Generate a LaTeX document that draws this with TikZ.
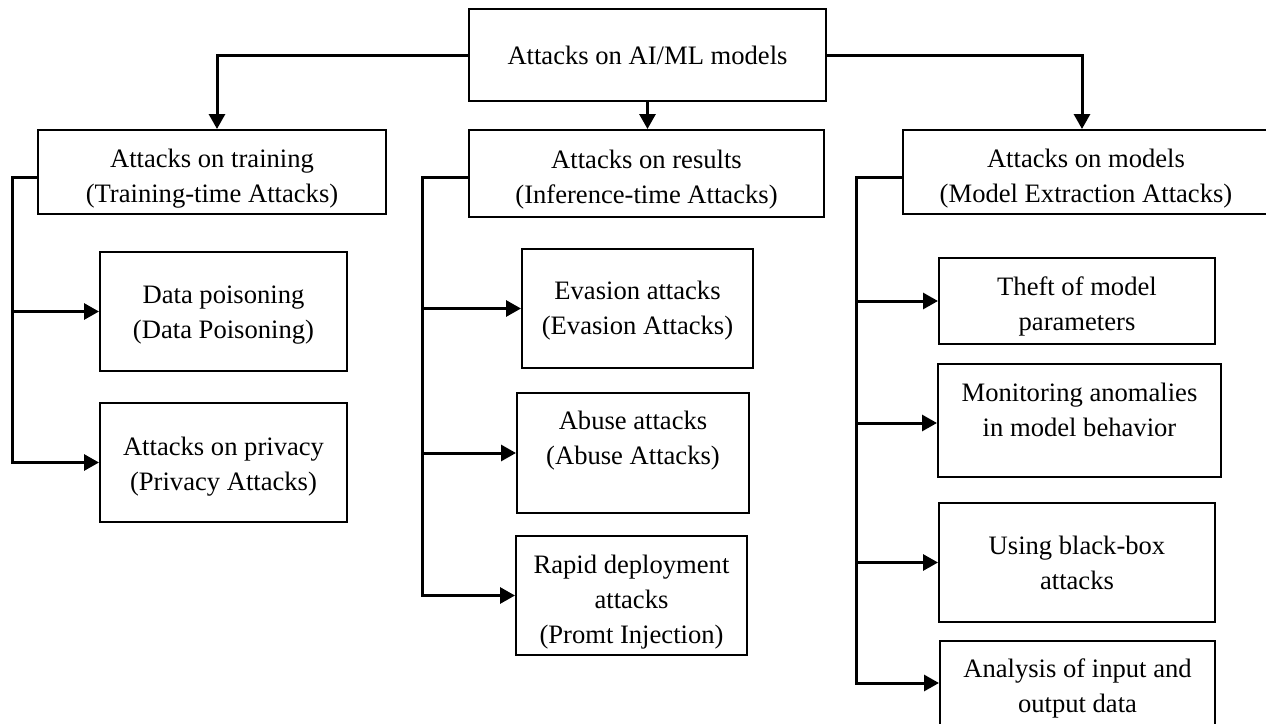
\documentclass[tikz,border=0pt]{standalone}
\usepackage{fontspec}
\setmainfont{Liberation Serif}
\usetikzlibrary{arrows.meta}
\newcommand{\lowr}[1]{\rule{0pt}{#1}}
\begin{document}
\begin{tikzpicture}[x=0.5pt,y=-0.5pt,
  box/.style={draw, line width=1pt, inner sep=0pt, align=center,
    font=\fontsize{13.3}{17.5}\selectfont},
  conn/.style={line width=1.5pt},
  arr/.style={conn, -{Triangle[length=7.5pt,width=8pt]}}]
\useasboundingbox (0,0) rectangle (1266,724);
\clip (0,0) rectangle (1266,724);

% level 0
\node[box, minimum width=178.5pt, minimum height=46pt] (top) at (647.5,55) {Attacks on AI/ML models};

% level 1
\node[box, minimum width=174pt, minimum height=42pt] (train) at (212,172) {\lowr{15.5pt}Attacks on training\\(Training-time Attacks)};
\node[box, minimum width=177.5pt, minimum height=43.5pt] (results) at (646.5,173.5) {\lowr{15pt}Attacks on results\\(Inference-time Attacks)};
\node[box, minimum width=183pt, minimum height=42pt] (models) at (1086,172) {\lowr{15.5pt}Attacks on models\\(Model Extraction Attacks)};

% training children
\node[box, minimum width=123.5pt, minimum height=59.5pt] (datap) at (223.5,311.5) {\lowr{12pt}Data poisoning\\(Data Poisoning)};
\node[box, minimum width=123.5pt, minimum height=59.5pt] (privacy) at (223.5,462.5) {\lowr{13pt}Attacks on privacy\\(Privacy Attacks)};

% results children
\node[box, minimum width=115.5pt, minimum height=59.5pt] (evasion) at (637.5,308.5) {\lowr{11pt}Evasion attacks\\(Evasion Attacks)};
\node[box, minimum width=116pt, minimum height=60pt] (abuse) at (633,453) {\lowr{11pt}Abuse attacks\\(Abuse Attacks)\\\mbox{}};
\node[box, minimum width=115.5pt, minimum height=59.5pt] (rapid) at (631.5,595.5) {\lowr{15.5pt}Rapid deployment\\attacks\\(Promt Injection)};

% models children
\node[box, minimum width=138pt, minimum height=43pt] (theft) at (1077,301) {\lowr{14.5pt}Theft of model\\parameters};
\node[box, minimum width=141.5pt, minimum height=56.5pt] (monitor) at (1079.5,420.5) {Monitoring anomalies\\in model behavior\\[-6.5pt]\mbox{}};
\node[box, minimum width=138pt, minimum height=59.5pt] (blackbox) at (1077,562.5) {Using black-box\\attacks};
\node[box, minimum width=137.5pt, minimum height=44.5pt] (analysis) at (1077.5,685.5) {\lowr{12pt}Analysis of input and\\output data};

% branch spines
\coordinate (tbx) at (12,177);
\coordinate (rbx) at (422,177);
\coordinate (mbx) at (856,177);
\coordinate (mw) at ([yshift=-1.25pt]monitor.west);
\coordinate (aw) at ([yshift=1.25pt]analysis.west);

% top connectors
\draw[arr] (top.west) -| ([xshift=2.5pt]train.north);
\draw[arr] (top.south) -- (top.south |- results.north);
\draw[arr] (top.east) -| ([xshift=-2pt]models.north);

% training branch
\draw[arr] ([yshift=-2.5pt]train.west) -| (tbx |- privacy.west) -- (privacy.west);
\draw[arr] (tbx |- datap.west) -- (datap.west);

% results branch
\draw[arr] ([yshift=-1.75pt]results.west) -| (rbx |- rapid.west) -- (rapid.west);
\draw[arr] (rbx |- evasion.west) -- (evasion.west);
\draw[arr] (rbx |- abuse.west) -- (abuse.west);

% models branch
\draw[arr] ([yshift=-2.5pt]models.west) -| (mbx |- aw) -- (aw);
\draw[arr] (mbx |- theft.west) -- (theft.west);
\draw[arr] (mbx |- mw) -- (mw);
\draw[arr] (mbx |- blackbox.west) -- (blackbox.west);
\end{tikzpicture}
\end{document}
